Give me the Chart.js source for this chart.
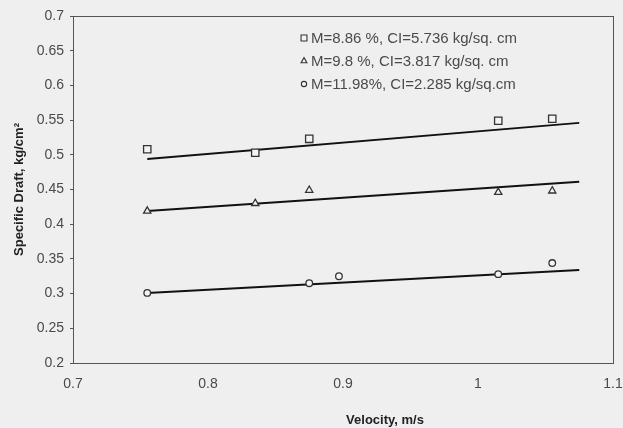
<!DOCTYPE html>
<html>
<head>
<meta charset="utf-8">
<script src="https://cdn.jsdelivr.net/npm/chart.js@4/dist/chart.umd.min.js"></script>
<style>
  html, body { margin: 0; padding: 0; background: #efefef; }
  #wrap { position: relative; width: 623px; height: 428px; }
</style>
</head>
<body>
<div id="wrap"><canvas id="c" width="623" height="428"></canvas></div>
<script>
'use strict';

// 데이터
const seriesLabels = [
  'M=8.86 %, CI=5.736 kg/sq. cm',
  'M=9.8 %, CI=3.817 kg/sq. cm',
  'M=11.98%, CI=2.285 kg/sq.cm'
];
const squareX = [0.755, 0.835, 0.875, 1.015, 1.055];
const squareY = [0.508, 0.503, 0.523, 0.549, 0.552];
const triangleX = [0.755, 0.835, 0.875, 1.015, 1.055];
const triangleY = [0.419, 0.430, 0.449, 0.446, 0.448];
const circleX = [0.755, 0.875, 0.897, 1.015, 1.055];
const circleY = [0.301, 0.315, 0.325, 0.328, 0.344];

// 추세선 양 끝점
const trendX = [0.755, 1.075];
const squareTrend = [0.494, 0.546];
const triangleTrend = [0.419, 0.461];
const circleTrend = [0.301, 0.334];

const xTicks = [0.7, 0.8, 0.9, 1, 1.1];

const pts = (xs, ys) => xs.map((x, i) => ({ x, y: ys[i] }));
const fmt = v => String(Math.round(v * 100) / 100);

const FONT = "'Liberation Sans', Arial, sans-serif";
const TEXT = '#4a4a4a';
const markerStyles = ['rect', 'triangle', 'circle'];
const markerRadius = [5.2, 4.2, 3.3];

function markerSet(i, data) {
  return {
    label: seriesLabels[i],
    data,
    showLine: false,
    pointStyle: markerStyles[i],
    pointRadius: markerRadius[i],
    pointBackgroundColor: '#f4f4f4',
    pointBorderColor: '#333',
    pointBorderWidth: 1.3,
  };
}

function trendSet(ys) {
  return {
    label: '',
    data: pts(trendX, ys),
    showLine: true,
    borderColor: '#111',
    borderWidth: 2,
    pointRadius: 0,
    fill: false,
  };
}

// 플롯 테두리 + 범례 + x축 제목
const framePlugin = {
  id: 'frame',
  afterDatasetsDraw(chart) {
    const { ctx, chartArea: a } = chart;
    ctx.save();
    ctx.strokeStyle = '#555';
    ctx.lineWidth = 1;
    ctx.strokeRect(a.left + 0.5, a.top + 0.5, a.right - a.left, a.bottom - a.top);

    const lx = 304, ly = [38, 61, 84];
    ctx.font = '15px ' + FONT;
    ctx.textBaseline = 'middle';
    markerStyles.forEach((s, i) => {
      ctx.fillStyle = '#f4f4f4';
      ctx.strokeStyle = '#333';
      ctx.lineWidth = 1.1;
      Chart.helpers.drawPoint(ctx, { pointStyle: s, radius: markerRadius[i] * 0.8, rotation: 0, borderWidth: 1.1 }, lx, ly[i]);
      ctx.fillStyle = TEXT;
      ctx.fillText(seriesLabels[i], lx + 7, ly[i] + 1);
    });

    ctx.font = 'bold 13px ' + FONT;
    ctx.fillStyle = '#222';
    ctx.textAlign = 'center';
    ctx.fillText('Velocity, m/s', 385, 420);
    ctx.restore();
  }
};

new Chart(document.getElementById('c'), {
  type: 'scatter',
  plugins: [framePlugin],
  data: {
    datasets: [
      markerSet(0, pts(squareX, squareY)),
      markerSet(1, pts(triangleX, triangleY)),
      markerSet(2, pts(circleX, circleY)),
      trendSet(squareTrend),
      trendSet(triangleTrend),
      trendSet(circleTrend),
    ],
  },
  options: {
    responsive: false,
    animation: false,
    layout: { padding: { top: 16, right: 10, left: 0, bottom: 0 } },
    plugins: {
      legend: { display: false },
      tooltip: { enabled: false },
    },
    scales: {
      x: {
        type: 'linear',
        min: 0.7,
        max: 1.1,
        afterBuildTicks(axis) { axis.ticks = xTicks.map(v => ({ value: v })); },
        ticks: { color: TEXT, font: { family: FONT, size: 14 }, padding: 5, callback: fmt },
        grid: { display: false },
        border: { display: true, color: '#555' },
        afterFit(axis) {
          axis.height = 65;
          axis.paddingLeft = 0;
          axis.paddingRight = 0;
        },
      },
      y: {
        type: 'linear',
        min: 0.2,
        max: 0.7,
        ticks: { stepSize: 0.05, color: TEXT, font: { family: FONT, size: 14 }, padding: 6, callback: fmt },
        grid: { drawOnChartArea: false, tickLength: 3, color: '#555' },
        border: { display: true, color: '#555' },
        title: {
          display: true,
          text: 'Specific Draft, kg/cm²',
          color: '#222',
          font: { family: FONT, size: 13, weight: 'bold' },
          padding: { top: 12, bottom: 0 },
        },
        afterFit(axis) {
          axis.width = 73;
          axis.paddingTop = 0;
          axis.paddingBottom = 0;
        },
      },
    },
  },
});
</script>
</body>
</html>
